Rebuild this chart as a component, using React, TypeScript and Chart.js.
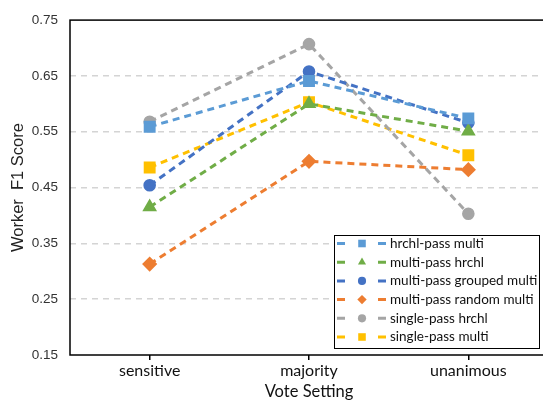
import React, { useEffect, useRef } from "react";
import { Chart, registerables } from "chart.js";

Chart.register(...registerables);

const categories = ["sensitive", "majority", "unanimous"];
const seriesNames = [
  "hrchl-pass multi",
  "multi-pass hrchl",
  "multi-pass grouped multi",
  "multi-pass random multi",
  "single-pass hrchl",
  "single-pass multi",
];
const hrchlPassMulti = [0.559, 0.641, 0.574];
const multiPassHrchl = [0.415, 0.6, 0.551];
const multiPassGroupedMulti = [0.454, 0.658, 0.566];
const multiPassRandomMulti = [0.313, 0.497, 0.482];
const singlePassHrchl = [0.568, 0.707, 0.403];
const singlePassMulti = [0.486, 0.603, 0.508];
const yTicks = [0.15, 0.25, 0.35, 0.45, 0.55, 0.65, 0.75];

const seriesValues = [
  hrchlPassMulti,
  multiPassHrchl,
  multiPassGroupedMulti,
  multiPassRandomMulti,
  singlePassHrchl,
  singlePassMulti,
];
const colors = ["#5B9BD5", "#70AD47", "#4472C4", "#ED7D31", "#A5A5A5", "#FFC000"];
const shapes = ["rect", "triangle", "circle", "rectRot", "circle", "rect"];
const radii = [6.3, 5.5, 4.8, 5.5, 4.8, 6.3];

function drawMarker(ctx: CanvasRenderingContext2D, shape: string, x: number, y: number, r: number, color: string) {
  ctx.save();
  ctx.fillStyle = color;
  ctx.beginPath();
  if (shape === "rect") {
    const s = r * Math.SQRT1_2;
    ctx.rect(x - s, y - s, 2 * s, 2 * s);
  } else if (shape === "triangle") {
    const h = r * 1.5;
    ctx.moveTo(x, y - r);
    ctx.lineTo(x + h * 0.577, y + r * 0.5);
    ctx.lineTo(x - h * 0.577, y + r * 0.5);
    ctx.closePath();
  } else if (shape === "rectRot") {
    ctx.moveTo(x, y - r);
    ctx.lineTo(x + r, y);
    ctx.lineTo(x, y + r);
    ctx.lineTo(x - r, y);
    ctx.closePath();
  } else {
    ctx.arc(x, y, r, 0, Math.PI * 2);
  }
  ctx.fill();
  ctx.restore();
}

const framePlugin = {
  id: "frame",
  afterDatasetsDraw(chart: any) {
    const { ctx, chartArea } = chart;
    ctx.save();
    ctx.strokeStyle = "#000";
    ctx.lineWidth = 1.5;
    ctx.strokeRect(chartArea.left, chartArea.top, chartArea.right - chartArea.left, chartArea.bottom - chartArea.top);
    ctx.restore();
  },
};

const legendPlugin = {
  id: "boxLegend",
  afterDraw(chart: any) {
    const { ctx, chartArea } = chart;
    const w = 205;
    const h = 113;
    const x0 = chartArea.right - 9 - w;
    const y0 = chartArea.bottom - 7 - h;
    ctx.save();
    ctx.fillStyle = "#fff";
    ctx.fillRect(x0, y0, w, h);
    ctx.strokeStyle = "#000";
    ctx.lineWidth = 1;
    ctx.strokeRect(x0 + 0.5, y0 + 0.5, w, h);
    const rowH = 18.7;
    chart.data.datasets.forEach((ds: any, i: number) => {
      const cy = y0 + 8.5 + i * rowH;
      const sx = x0 + 3;
      ctx.strokeStyle = ds.borderColor;
      ctx.lineWidth = 3;
      ctx.beginPath();
      ctx.moveTo(sx, cy);
      ctx.lineTo(sx + 8, cy);
      ctx.moveTo(sx + 41, cy);
      ctx.lineTo(sx + 49, cy);
      ctx.stroke();
      drawMarker(ctx, ds.pointStyle, sx + 25, cy, ds.pointRadius * 0.85, ds.borderColor);
      ctx.fillStyle = "#111";
      ctx.font = "13.5px Lato";
      ctx.textBaseline = "middle";
      ctx.textAlign = "left";
      ctx.fillText(ds.label, x0 + 56, cy);
    });
    ctx.restore();
  },
};

export default function App() {
  const ref = useRef<HTMLCanvasElement>(null);
  useEffect(() => {
    if (!ref.current) return;
    const chart = new Chart(ref.current, {
      type: "line",
      data: {
        labels: categories,
        datasets: seriesNames.map((name, i) => ({
          label: name,
          data: seriesValues[i],
          borderColor: colors[i],
          backgroundColor: colors[i],
          pointBackgroundColor: colors[i],
          pointBorderColor: colors[i],
          pointStyle: shapes[i],
          pointRadius: radii[i],
          borderWidth: 3,
          borderDash: [7, 5],
          tension: 0,
          fill: false,
        })),
      },
      options: {
        animation: false,
        responsive: false,
        maintainAspectRatio: false,
        layout: { padding: { top: 15, right: 12, left: 0, bottom: 0 } },
        plugins: {
          legend: { display: false },
          tooltip: { enabled: false },
        },
        scales: {
          x: {
            type: "category",
            offset: true,
            afterFit: (axis: any) => {
              axis.height = 47;
            },
            grid: {
              offset: false,
              drawOnChartArea: false,
              drawTicks: true,
              tickLength: 5,
              color: "#000",
              lineWidth: 1.5,
            },
            border: { display: false },
            ticks: {
              padding: 1,
              color: "#111",
              font: { family: "Lato", size: 16 },
            },
            title: {
              display: true,
              text: "Vote Setting",
              color: "#111",
              font: { family: "Lato", size: 16.5 },
              padding: { top: 0, bottom: 0 },
            },
          },
          y: {
            type: "linear",
            min: yTicks[0],
            max: yTicks[yTicks.length - 1],
            afterFit: (axis: any) => {
              axis.width = 70;
            },
            afterBuildTicks: (axis: any) => {
              axis.ticks = yTicks.map((v) => ({ value: v }));
            },
            grid: {
              drawTicks: false,
              lineWidth: 1.5,
              color: (c: any) =>
                c.index === 0 || c.index === yTicks.length - 1 ? "rgba(0,0,0,0)" : "#D4D4D4",
            },
            border: { display: false, dash: [6, 5] },
            ticks: {
              padding: 12,
              color: "#333",
              font: { family: "Liberation Sans", size: 13.5 },
              callback: (v: any) => Number(v).toFixed(2),
            },
            title: {
              display: true,
              text: "Worker  F1 Score",
              color: "#222",
              font: { family: "Liberation Sans", size: 16.5 },
              padding: { top: 9, bottom: 0 },
            },
          },
        },
      },
      plugins: [framePlugin, legendPlugin],
    });
    return () => chart.destroy();
  }, []);
  return (
    <div style={{ position: "fixed", left: 0, top: 0, width: 560, height: 402, background: "#fff" }}>
      <canvas ref={ref} width={560} height={402} style={{ width: 560, height: 402 }} />
    </div>
  );
}
